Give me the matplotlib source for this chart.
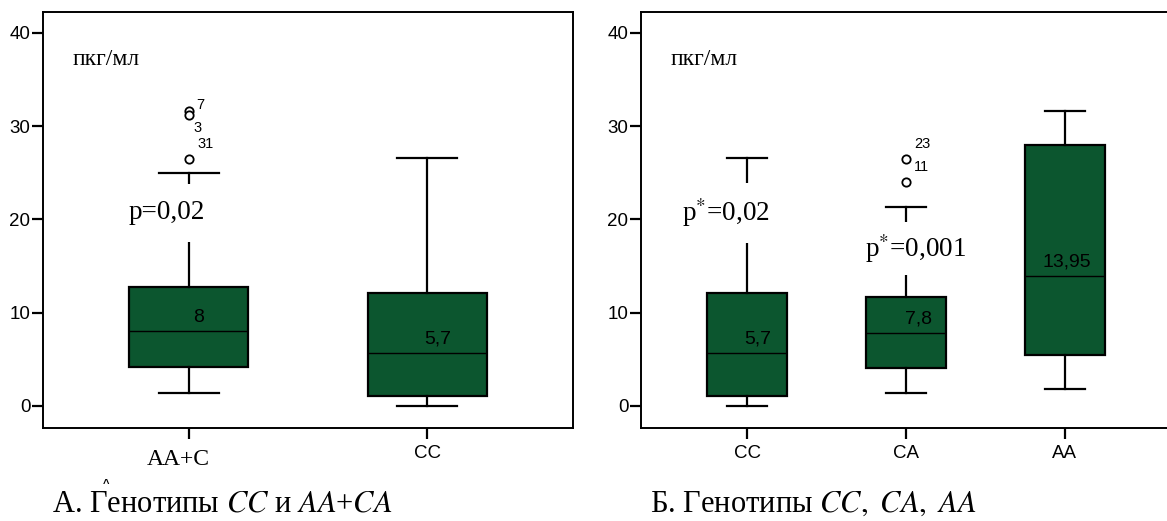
import matplotlib
matplotlib.use("Agg")
import matplotlib.pyplot as plt

plt.rcParams["mathtext.fontset"] = "stix"

# data: panel A (two groups)
a_groups = ["AA+C", "CC"]
a_q1 = [4.2, 1.1]
a_med = [8.0, 5.7]
a_q3 = [12.8, 12.07]
a_lo = [1.36, 0.0]
a_hi = [25.0, 26.6]
a_fliers = [[31.65, 31.25, 26.5], []]
a_flier_ids = [["7", "3", "31"], []]
a_med_labels = ["8", "5,7"]

# data: panel B (three groups)
b_groups = ["CC", "CA", "AA"]
b_q1 = [1.1, 4.1, 5.43]
b_med = [5.7, 7.8, 13.95]
b_q3 = [12.07, 11.65, 28.0]
b_lo = [0.0, 1.36, 1.85]
b_hi = [26.6, 21.3, 31.6]
b_fliers = [[], [26.5, 24.0], []]
b_flier_ids = [[], ["23", "11"], []]
b_med_labels = ["5,7", "7,8", "13,95"]

GREEN = "#0c562f"
SANS = "Liberation Sans"
SERIF = "Liberation Serif"


def draw_panel(ax, groups, q1, med, q3, lo, hi, fliers, ids, med_labels,
               xlim, med_dx, flier_offsets):
    stats = []
    for i in range(len(groups)):
        stats.append(dict(q1=q1[i], med=med[i], q3=q3[i], whislo=lo[i],
                          whishi=hi[i], fliers=fliers[i]))
    pos = list(range(1, len(groups) + 1))
    ax.bxp(stats, positions=pos, widths=0.5, capwidths=0.25,
           patch_artist=True, showfliers=True,
           boxprops=dict(facecolor=GREEN, edgecolor="black", linewidth=1.6),
           medianprops=dict(color="black", linewidth=1.0),
           whiskerprops=dict(color="black", linewidth=1.6),
           capprops=dict(color="black", linewidth=1.6),
           flierprops=dict(marker="o", markerfacecolor="white",
                           markeredgecolor="black", markersize=6,
                           markeredgewidth=1.3))
    for i, p in enumerate(pos):
        ax.annotate(med_labels[i], (p, med[i]), xytext=(med_dx[i], 4),
                    textcoords="offset points", ha="center", va="bottom",
                    fontsize=14, family=SANS, zorder=5)
        for j, v in enumerate(fliers[i]):
            ox, oy = flier_offsets[i][j]
            ax.annotate(ids[i][j], (p, v), xytext=(ox, oy),
                        textcoords="offset points", ha="left", va="center",
                        fontsize=10.5, family=SANS)
    ax.set_xlim(*xlim)
    ax.set_ylim(-2.36, 42.25)
    ax.set_yticks([0, 10, 20, 30, 40])
    ax.set_xticks(pos)
    ax.set_xticklabels(groups)
    for s in ax.spines.values():
        s.set_linewidth(1.4)
    ax.tick_params(axis="y", direction="out", length=8, width=1.6, pad=1,
                   labelsize=13.5)
    ax.tick_params(axis="x", direction="out", length=8, width=1.6, pad=4,
                   labelsize=13.5)
    for t in ax.get_xticklabels() + ax.get_yticklabels():
        t.set_family(SANS)
    ax.text(0.055, 0.885, "пкг/мл", transform=ax.transAxes, family=SERIF,
            fontsize=17, ha="left", va="center")


fig = plt.figure(figsize=(11.67, 5.21), dpi=100)

ax1 = fig.add_axes([43 / 1167, 93 / 521, 530 / 1167, 416 / 521])
draw_panel(ax1, a_groups, a_q1, a_med, a_q3, a_lo, a_hi, a_fliers,
           a_flier_ids, a_med_labels, (0.387, 2.613), [7, 8],
           [[(5, 4), (3, -10), (6, 11)], []])
# first category label is set in serif and sits a bit left of its tick
ax1.set_xticklabels([""] + a_groups[1:])
ax1.annotate(a_groups[0], xy=(1, 0), xycoords=("data", "axes fraction"),
             xytext=(-8, -23), textcoords="offset points", ha="center",
             va="center", family=SERIF, fontsize=17)
ax1.text(0.905, 20.7, "p=0,02", family=SERIF, fontsize=19.5, ha="center",
         va="center", zorder=4,
         bbox=dict(facecolor="white", edgecolor="none", pad=12))
fig.text(106 / 1167, 1 - 484 / 521, "^", family=SANS, fontsize=8,
         fontweight="bold", ha="center", va="center")
fig.text(52 / 1167, 1 - 504 / 521,
         "А. Генотипы $\\it{CC}$ и $\\it{AA}$+$\\it{CA}$",
         family=SERIF, fontsize=22, ha="left", va="center")

ax2 = fig.add_axes([641 / 1167, 93 / 521, 530 / 1167, 416 / 521])
draw_panel(ax2, b_groups, b_q1, b_med, b_q3, b_lo, b_hi, b_fliers,
           b_flier_ids, b_med_labels, (0.333, 3.667), [8, 9, 1],
           [[], [(6, 11), (6, 11)], []])
ax2.text(0.87, 20.7, "p$^{*}$=0,02", family=SERIF, fontsize=19.5,
         ha="center", va="center", zorder=4,
         bbox=dict(facecolor="white", edgecolor="none", pad=10))
ax2.text(2.06, 16.9, "p$^{*}$=0,001", family=SERIF, fontsize=19.5,
         ha="center", va="center", zorder=4,
         bbox=dict(facecolor="white", edgecolor="none", pad=7))
fig.text(650 / 1167, 1 - 504 / 521,
         "Б. Генотипы $\\it{CC,}$ $\\it{CA,}$ $\\it{AA}$",
         family=SERIF, fontsize=22, ha="left", va="center")

fig.savefig("out.png", dpi=100)
